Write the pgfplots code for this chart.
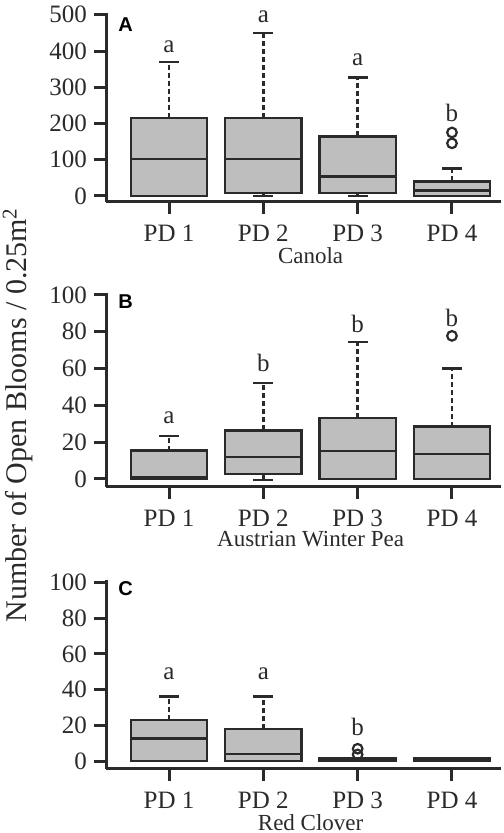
\documentclass[border=0pt]{standalone}
\usepackage{pgfplots}
\pgfplotsset{compat=1.18}
\usepackage{fontspec}
\setmainfont{Liberation Serif}
\newfontfamily\panelfont{Liberation Sans}

\definecolor{boxfill}{HTML}{BEBEBE}
\definecolor{linec}{HTML}{2A2A2A}

\tikzset{
  sig/.style={font=\rmfamily\fontsize{12.5}{14}\selectfont, text=linec},
  plet/.style={font=\panelfont\bfseries\fontsize{10}{12}\selectfont,
    anchor=north west, inner sep=0pt},
}
\pgfplotsset{
  panel/.style={
    scale only axis, width=197.5pt,
    xmin=0.332, xmax=4.52,
    axis x line*=bottom, axis y line*=left,
    axis line style={line width=1.5pt, linec},
    xtick={1,2,3,4}, xticklabels={PD 1,PD 2,PD 3,PD 4},
    tick align=outside, major tick length=6pt,
    tick style={line width=1.5pt, linec},
    tick label style={font=\rmfamily\fontsize{12.5}{14}\selectfont, text=linec},
    xticklabel style={yshift=-2pt},
    x label style={font=\rmfamily\fontsize{11.5}{13}\selectfont, text=linec,
      at={(axis description cs:0.518,0)}, anchor=north, yshift=-19pt},
    clip=false,
  },
  bxd/.style={draw=linec, line width=1.2pt, solid, mark=none},
  outl/.style={only marks, mark=o, mark size=2.4pt,
    mark options={solid, line width=1.1pt, draw=linec, fill=none}},
}

% one box: position, lower whisker, lower quartile, median, upper quartile, upper whisker
\newcommand\bx[6]{%
  \pgfmathsetmacro\bxL{#1-0.405}\pgfmathsetmacro\bxR{#1+0.405}%
  \pgfmathsetmacro\capL{#1-0.105}\pgfmathsetmacro\capR{#1+0.105}%
  \addplot[bxd, dash pattern=on 2.5pt off 1.5pt] coordinates {(#1,#5) (#1,#6)};
  \addplot[bxd] coordinates {(\capL,#6) (\capR,#6)};
  \addplot[bxd] coordinates {(#1,#2) (#1,#3)};
  \addplot[bxd] coordinates {(\capL,#2) (\capR,#2)};
  \addplot[bxd, fill=boxfill] coordinates {(\bxL,#3) (\bxR,#3) (\bxR,#5) (\bxL,#5)} -- cycle;
  \addplot[bxd] coordinates {(\bxL,#4) (\bxR,#4)};
}

\begin{document}
\begin{tikzpicture}
% A: Canola
\begin{axis}[panel, at={(53pt,315.5pt)}, anchor=south west, height=94.5pt,
  ymin=-17, ymax=505, ytick={0,100,...,500},
  yticklabels={0,100,200,300,400,500}, xlabel={Canola}]
\bx{1}{0}{0}{102}{215}{369}
\bx{2}{0}{7}{102}{215}{449}
\bx{3}{0}{7}{53}{164}{327}
\bx{4}{0}{0}{15}{40}{75}
\addplot[outl] coordinates {(4,175) (4,145)};
\node[sig] at (axis cs:1,412) {a};
\node[sig] at (axis cs:2,495) {a};
\node[sig] at (axis cs:3,376) {a};
\node[sig] at (axis cs:4,229) {b};
\node[plet] at (rel axis cs:0.03,0.975) {A};
\end{axis}
% B: Austrian Winter Pea
\begin{axis}[panel, at={(53pt,173.2pt)}, anchor=south west, height=96.8pt,
  ymin=-4.2, ymax=101, ytick={0,20,...,100},
  yticklabels={0,20,40,60,80,100}, xlabel={Austrian Winter Pea}]
\bx{1}{0}{0}{1}{15.4}{23.4}
\bx{2}{-0.5}{2.7}{11.8}{26.3}{52}
\bx{3}{0}{0}{15.2}{33}{74.3}
\bx{4}{0}{0}{13.4}{28.4}{60}
\addplot[outl] coordinates {(4,77.7)};
\node[sig] at (axis cs:1,33) {a};
\node[sig] at (axis cs:2,63) {b};
\node[sig] at (axis cs:3,84) {b};
\node[sig] at (axis cs:4,87.5) {b};
\node[plet] at (rel axis cs:0.03,0.995) {B};
\end{axis}
% C: Red Clover
\begin{axis}[panel, at={(53pt,32pt)}, anchor=south west, height=94.3pt,
  ymin=-4.3, ymax=101, ytick={0,20,...,100},
  yticklabels={0,20,40,60,80,100}, xlabel={Red Clover}]
\bx{1}{0}{0}{12.8}{22.9}{36.1}
\bx{2}{0}{0}{4}{17.9}{36.1}
\bx{3}{0}{0}{0.7}{1.9}{1.9}
\bx{4}{0}{0}{1}{1.9}{1.9}
\addplot[outl] coordinates {(3,7) (3,3.8)};
\node[sig] at (axis cs:1,49) {a};
\node[sig] at (axis cs:2,49) {a};
\node[sig] at (axis cs:3,19.4) {b};
\node[plet] at (rel axis cs:0.03,0.995) {C};
\end{axis}
\node[rotate=90, font=\rmfamily\fontsize{15}{17}\selectfont, text=linec] at (9pt,209pt)
  {Number of Open Blooms / 0.25m\textsuperscript{2}};
\pgfresetboundingbox
\path[use as bounding box] (0,0) rectangle (251.5pt,416.5pt);
\end{tikzpicture}
\end{document}
